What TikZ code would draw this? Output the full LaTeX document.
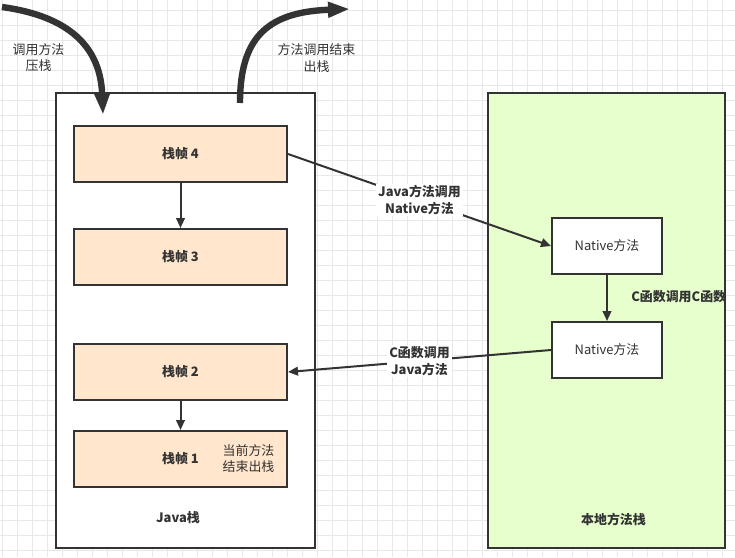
\documentclass[tikz,border=0pt]{standalone}
\usepackage{fontspec}
\setmainfont{Noto Sans CJK SC}
\usetikzlibrary{arrows.meta}
\definecolor{ink}{HTML}{333333}
\definecolor{gridc}{HTML}{E8E8E8}
\definecolor{framefill}{HTML}{FFE6CC}
\definecolor{nativefill}{HTML}{E6FFCC}
\newcommand{\dfont}{\fontsize{9.7}{12.2}\selectfont}
\tikzset{
  gridline/.style={draw=gridc, line width=0.75pt},
  stackbox/.style={draw=ink, line width=1.5pt, inner sep=0pt, minimum width=#1, minimum height=341.25pt},
  framebox/.style={draw=ink, fill=framefill, line width=1.5pt, inner sep=0pt, minimum width=159.75pt, minimum height=42pt, font=\dfont\bfseries, text=ink},
  nativebox/.style={draw=ink, fill=white, line width=1.5pt, inner sep=0pt, minimum width=82.5pt, minimum height=42pt, font=\dfont, text=ink},
  plainlabel/.style={font=\dfont, text=ink, align=center, inner sep=0pt},
  boldlabel/.style={font=\dfont\bfseries, text=ink, align=center, inner sep=0pt},
  edgelabel/.style={boldlabel, fill=white, inner sep=1.5pt},
  connector/.style={draw=ink, line width=1.5pt, -{Triangle[length=7.5pt,width=6.5pt]}},
  bigarrow/.style={draw=ink, line width=4.8pt, -{Triangle[length=16.5pt,width=11pt]}},
}
\begin{document}
\begin{tikzpicture}[x=0.75pt,y=-0.75pt]
\useasboundingbox (0,0) rectangle (735,557);
\fill[white] (0,0) rectangle (735,557);
\foreach \gx in {2.5,17.5,...,735} {\draw[gridline] (\gx,0) -- (\gx,557);}
\foreach \gy in {10,25,...,557} {\draw[gridline] (0,\gy) -- (735,\gy);}

% stacks
\node[stackbox=194.25pt, fill=white] (javastack) at (185.5,320.5) {};
\node[stackbox=177.75pt, fill=nativefill] (nativestack) at (606.5,320.5) {};

% frames
\node[framebox] (f4) at (180.5,154) {栈帧 4};
\node[framebox] (f3) at (180.5,257) {栈帧 3};
\node[framebox] (f2) at (180.5,372) {栈帧 2};
\node[framebox] (f1) at (180.5,459) {栈帧 1};

% native methods
\node[nativebox] (n1) at (607,246) {Native方法};
\node[nativebox] (n2) at (607,350) {Native方法};

% labels
\node[boldlabel] (javalabel) at (178,518) {Java栈};
\node[boldlabel] (nativelabel) at (613.5,519) {本地方法栈};
\node[plainlabel] (curlabel) at (248.5,458.5) {当前方法\\结束出栈};
\node[plainlabel] (pushlabel) at (38.5,57.5) {调用方法\\压栈};
\node[plainlabel] (poplabel) at (316.5,58) {方法调用结束\\出栈};

% connectors
\draw[connector] (f4.south) -- (f3.north);
\draw[connector] (f2.south) -- (f1.north);
\draw[connector] (n1.south) -- (n2.north);
\node[boldlabel, anchor=west] (cclabel) at (631,297) {C函数调用C函数};
\draw[connector] (f4.east) -- node[edgelabel] (jnlabel) {Java方法调用\\Native方法} (n1.west);
\draw[connector] (n2.west) -- node[edgelabel] (cjlabel) {C函数调用\\Java方法} (f2.east);

% big push / pop arrows
\coordinate (pushstart) at (2,7);
\coordinate (pushend) at (103,115);
\coordinate (popstart) at (240,103);
\coordinate (popend) at (350,9);
\draw[bigarrow] (pushstart) .. controls (60,15) and (100,40) .. (pushend);
\draw[bigarrow] (popstart) .. controls (240,40) and (265,12) .. (popend);
\end{tikzpicture}
\end{document}
